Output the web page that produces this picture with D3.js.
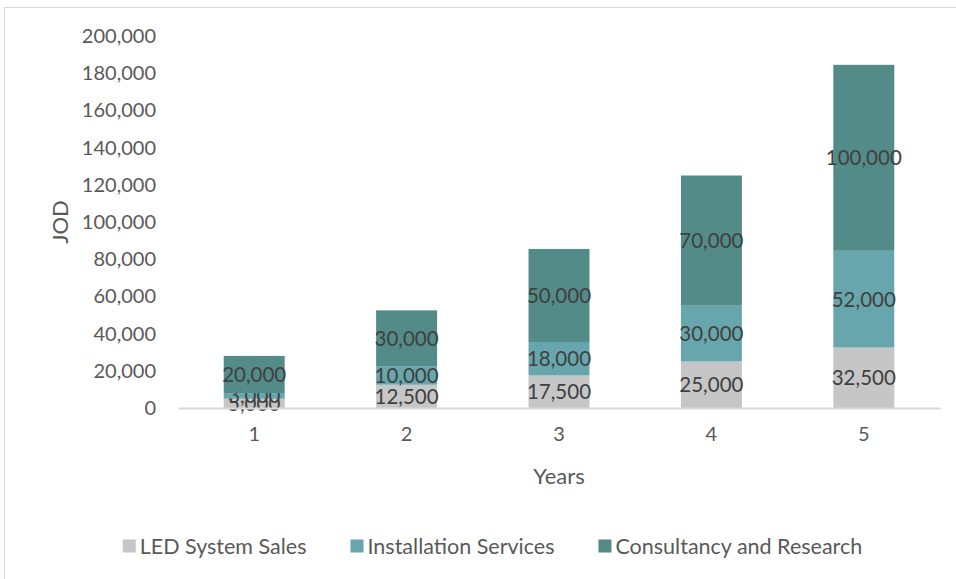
<!DOCTYPE html>
<html>
<head>
<meta charset="utf-8">
<script src="https://cdn.jsdelivr.net/npm/d3@7"></script>
<style>
  body { margin: 0; background: #fff; }
  text { font-family: "Lato", "Open Sans", sans-serif; }
</style>
</head>
<body>
<div id="chart"></div>
<script>
// chart data
var years = ["1", "2", "3", "4", "5"];
var seriesNames = ["LED System Sales", "Installation Services", "Consultancy and Research"];
var ledSales = [5000, 12500, 17500, 25000, 32500];
var installation = [3000, 10000, 18000, 30000, 52000];
var consultancy = [20000, 30000, 50000, 70000, 100000];
var yTicks = [0, 20000, 40000, 60000, 80000, 100000, 120000, 140000, 160000, 180000, 200000];

var colors = ["#c6c6c6", "#68a6ad", "#538b89"];

var W = 956, H = 579;
var margin = {top: 36, right: 16, bottom: 171, left: 178};

var svg = d3.select("#chart").append("svg")
  .attr("width", W)
  .attr("height", H);

// frame
svg.append("rect")
  .attr("x", 4.5).attr("y", 7.5)
  .attr("width", W).attr("height", H)
  .attr("fill", "none")
  .attr("stroke", "#d9d9d9")
  .attr("stroke-width", 1);

var table = years.map(function(y, i) {
  return {year: y, a: ledSales[i], b: installation[i], c: consultancy[i]};
});
var stack = d3.stack().keys(["a", "b", "c"]);
var layers = stack(table);

var x = d3.scaleBand()
  .domain(years)
  .range([margin.left, W - margin.right])
  .paddingInner(0.6)
  .paddingOuter(0.3);

var y = d3.scaleLinear()
  .domain([0, 200000])
  .range([H - margin.bottom, margin.top]);

// y axis labels
var yAxis = svg.append("g")
  .attr("transform", "translate(" + (margin.left - 22) + ",0)")
  .call(d3.axisLeft(y).tickValues(yTicks).tickSize(0).tickPadding(0).tickFormat(d3.format(",")));
yAxis.select(".domain").remove();
yAxis.selectAll("text")
  .attr("fill", "#595959")
  .style("font-size", "20px");

// bars
var groups = svg.selectAll("g.layer")
  .data(layers)
  .enter().append("g")
  .attr("class", "layer")
  .attr("fill", function(d, i) { return colors[i]; });

groups.selectAll("rect")
  .data(function(d) { return d; })
  .enter().append("rect")
  .attr("x", function(d) { return x(d.data.year); })
  .attr("y", function(d) { return y(d[1]); })
  .attr("width", x.bandwidth())
  .attr("height", function(d) { return y(d[0]) - y(d[1]); });

// x axis
var xAxis = svg.append("g")
  .attr("transform", "translate(0," + (H - margin.bottom) + ")")
  .call(d3.axisBottom(x).tickSize(0).tickPadding(19));
xAxis.select(".domain")
  .attr("stroke", "#d9d9d9")
  .attr("stroke-width", 2);
xAxis.selectAll("text")
  .attr("fill", "#595959")
  .style("font-size", "20px");

// data labels
groups.selectAll("text.lbl")
  .data(function(d) { return d; })
  .enter().append("text")
  .attr("class", "lbl")
  .attr("x", function(d) { return x(d.data.year) + x.bandwidth() / 2; })
  .attr("y", function(d) { return (y(d[0]) + y(d[1])) / 2; })
  .attr("dy", "0.36em")
  .attr("text-anchor", "middle")
  .attr("fill", "#404040")
  .style("font-size", "20.5px")
  .text(function(d) { return d3.format(",")(d[1] - d[0]); });

// axis titles
svg.append("text")
  .attr("transform", "translate(68," + y(100000) + ") rotate(-90)")
  .attr("text-anchor", "middle")
  .attr("fill", "#595959")
  .style("font-size", "22px")
  .text("JOD");

svg.append("text")
  .attr("x", (margin.left + W - margin.right) / 2)
  .attr("y", 484)
  .attr("text-anchor", "middle")
  .attr("fill", "#595959")
  .style("font-size", "22px")
  .text("Years");

// legend
var legend = svg.append("g").attr("transform", "translate(0,546)");
var items = legend.selectAll("g")
  .data(seriesNames)
  .enter().append("g");
items.append("rect")
  .attr("y", -6.5)
  .attr("width", 13).attr("height", 13)
  .attr("fill", function(d, i) { return colors[i]; });
items.append("text")
  .attr("x", 17)
  .attr("dy", "0.36em")
  .attr("fill", "#595959")
  .style("font-size", "21.5px")
  .text(function(d) { return d; });

var widths = [];
items.each(function() { widths.push(this.getBBox().width); });
var gap = 44;
var total = d3.sum(widths) + gap * (widths.length - 1);
var cx = 492.5;
var pos = cx - total / 2;
items.attr("transform", function(d, i) {
  var p = pos;
  pos += widths[i] + gap;
  return "translate(" + p + ",0)";
});
</script>
</body>
</html>
